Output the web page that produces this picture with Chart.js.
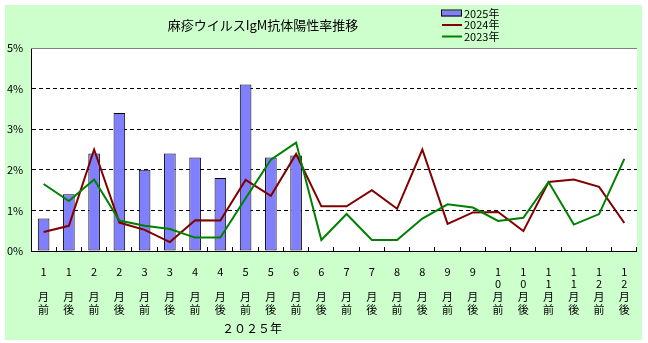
<!DOCTYPE html>
<html>
<head>
<meta charset="utf-8">
<script src="https://cdn.jsdelivr.net/npm/chart.js@4"></script>
<style>
  html, body { margin: 0; padding: 0; background: #fff; }
  #wrap { width: 648px; height: 343px; }
</style>
</head>
<body>
<div id="wrap"><canvas id="grafico" width="648" height="343"></canvas></div>
<script>
const categories = ['1月前','1月後','2月前','2月後','3月前','3月後','4月前','4月後','5月前','5月後','6月前','6月後',
  '7月前','7月後','8月前','8月後','9月前','9月後','10月前','10月後','11月前','11月後','12月前','12月後'];

// IgM抗体陽性率 (%)
const rate2025 = [0.8, 1.4, 2.4, 3.4, 2.0, 2.4, 2.3, 1.8, 4.1, 2.3, 2.35,
  null, null, null, null, null, null, null, null, null, null, null, null, null];
const rate2024 = [0.47, 0.62, 2.5, 0.7, 0.52, 0.22, 0.76, 0.75, 1.75, 1.36, 2.39, 1.1,
  1.1, 1.5, 1.04, 2.5, 0.67, 0.95, 0.96, 0.49, 1.7, 1.76, 1.58, 0.69];
const rate2023 = [1.65, 1.23, 1.76, 0.75, 0.62, 0.54, 0.33, 0.33, 1.3, 2.25, 2.67, 0.27,
  0.91, 0.27, 0.27, 0.8, 1.15, 1.07, 0.74, 0.82, 1.7, 0.65, 0.91, 2.27];

const yTicks = [0, 1, 2, 3, 4, 5];
const titulo = '麻疹ウイルスIgM抗体陽性率推移';
const tituloEje = '２０２５年';

const fuente = '"Noto Sans CJK JP", "Noto Sans", sans-serif';

// "10月前" -> ['1','0','月','前'], "1月前" -> ['1','','月','前']
function lineasEtiqueta(txt) {
  const m = txt.match(/^(\d+)(月)(.)$/);
  const d = m[1].split('');
  if (d.length === 1) d.push('');
  return [d[0], d[1], m[2], m[3]];
}

const fondo = {
  id: 'fondo',
  beforeDraw(chart) {
    const ctx = chart.ctx;
    const a = chart.chartArea;
    ctx.save();
    ctx.fillStyle = '#ffffff';
    ctx.fillRect(0, 0, chart.width, chart.height);
    ctx.fillStyle = '#ccffcc';
    ctx.fillRect(5, 5, 637, 335);
    ctx.fillStyle = '#ffffff';
    ctx.fillRect(a.left, a.top, a.right - a.left, a.bottom - a.top);
    ctx.restore();
  },
  afterDraw(chart) {
    const ctx = chart.ctx;
    const a = chart.chartArea;
    ctx.save();
    // borde superior gris
    ctx.fillStyle = '#808080';
    ctx.fillRect(a.left, a.top, a.right - a.left, 1);

    // título
    ctx.fillStyle = '#000';
    ctx.textAlign = 'center';
    ctx.textBaseline = 'middle';
    ctx.font = '13px ' + fuente;
    ctx.fillText(titulo, 263, 25);

    // título del eje x
    ctx.font = '12px ' + fuente;
    ctx.fillText(tituloEje, 252, 328);

    // leyenda
    ctx.font = '11px ' + fuente;
    ctx.textAlign = 'left';
    const filas = [13.5, 25, 36.5];
    chart.data.datasets.forEach((ds, i) => {
      const y = filas[i];
      if (ds.type === 'line') {
        ctx.fillStyle = ds.borderColor;
        ctx.fillRect(442, y - 1, 20, 2);
      } else {
        ctx.fillStyle = ds.backgroundColor;
        ctx.fillRect(442, y - 3, 20, 6);
        ctx.strokeStyle = '#000';
        ctx.lineWidth = 1;
        ctx.strokeRect(441.5, y - 3.5, 20, 6);
      }
      ctx.fillStyle = '#000';
      ctx.fillText(ds.label, 464, y);
    });
    ctx.restore();
  }
};

const ctx = document.getElementById('grafico').getContext('2d');
window.grafico = new Chart(ctx, {
  type: 'bar',
  data: {
    labels: categories,
    datasets: [{
      label: '2025年',
      data: rate2025,
      backgroundColor: '#8080ff',
      borderColor: '#000000',
      borderWidth: 1,
      borderSkipped: false,
      categoryPercentage: 1,
      barPercentage: 0.46,
      order: 3
    }, {
      type: 'line',
      label: '2024年',
      data: rate2024,
      borderColor: '#800000',
      backgroundColor: '#800000',
      borderWidth: 2,
      pointRadius: 0,
      tension: 0,
      order: 2
    }, {
      type: 'line',
      label: '2023年',
      data: rate2023,
      borderColor: '#008000',
      backgroundColor: '#008000',
      borderWidth: 2,
      pointRadius: 0,
      tension: 0,
      order: 1
    }]
  },
  options: {
    responsive: false,
    animation: false,
    events: [],
    layout: { padding: { top: 48, right: 8, left: 7, bottom: 0 } },
    plugins: {
      legend: { display: false },
      title: { display: false },
      tooltip: { enabled: false }
    },
    scales: {
      x: {
        afterFit(scale) { scale.height = 92; },
        border: { color: '#000', width: 1 },
        grid: {
          offset: true,
          drawOnChartArea: false,
          drawTicks: true,
          tickLength: -4,
          color: '#000'
        },
        ticks: {
          autoSkip: false,
          maxRotation: 0,
          padding: 18,
          color: '#000',
          font: { family: fuente, size: 11, lineHeight: 1.16 },
          callback: function(v, i) { return lineasEtiqueta(categories[i]); }
        }
      },
      y: {
        min: 0,
        max: 5,
        afterFit(scale) { scale.width = 24; },
        afterBuildTicks(scale) { scale.ticks = yTicks.map(v => ({ value: v })); },
        border: { color: '#000', width: 1, dash: [4, 3] },
        grid: {
          drawTicks: false,
          color: c => (c.tick && (c.tick.value === 0 || c.tick.value === 5)) ? 'rgba(0,0,0,0)' : '#000'
        },
        ticks: {
          crossAlign: 'far',
          padding: 4,
          color: '#000',
          font: { family: fuente, size: 11 },
          callback: v => v + '%'
        }
      }
    }
  },
  plugins: [fondo]
});
</script>
</body>
</html>
